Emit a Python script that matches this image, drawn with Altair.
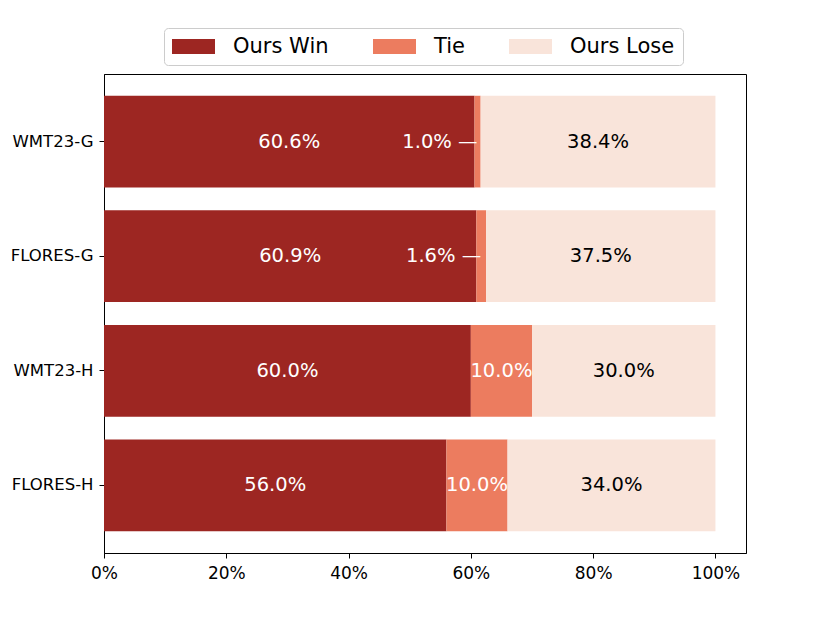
import altair as alt
import pandas as pd

categories = ["WMT23-G", "FLORES-G", "WMT23-H", "FLORES-H"]
win = [60.6, 60.9, 60.0, 56.0]
tie = [1.0, 1.6, 10.0, 10.0]
lose = [38.4, 37.5, 30.0, 34.0]
outcomes = ["Ours Win", "Tie", "Ours Lose"]
colors = ["#9d2622", "#ec7c5f", "#f9e4da"]
text_colors = ["white", "white", "black"]
x_ticks = [0, 0.2, 0.4, 0.6, 0.8, 1.0]

rows = []
for c, w, t, l in zip(categories, win, tie, lose):
    start = 0.0
    for o, v, tc in zip(outcomes, (w, t, l), text_colors):
        small = v < 5
        rows.append(dict(
            cat=c, outcome=o, value=v,
            start=start / 100, end=(start + v) / 100,
            mid=(start + v / 2) / 100,
            label=(f"{v:.1f}% \u2014" if small else f"{v:.1f}%"),
            small=small, tcolor=tc,
        ))
        start += v
df = pd.DataFrame(rows)

FONT = "DejaVu Sans"

y_enc = alt.Y(
    "cat:N", sort=categories,
    scale=alt.Scale(paddingInner=0.2, paddingOuter=0.19),
    axis=alt.Axis(title=None, labelFontSize=16.5, labelFont=FONT, labelColor="black",
                  tickSize=5, tickColor="black", domainColor="black", labelPadding=6),
)
x_scale = alt.Scale(domain=[0, 1.05], nice=False)

bars = alt.Chart(df).mark_bar().encode(
    y=y_enc,
    x=alt.X("start:Q", scale=x_scale,
            axis=alt.Axis(title=None, values=x_ticks, format=".0%", labelFontSize=17,
                          labelFont=FONT, labelColor="black", tickSize=5, tickColor="black",
                          domainColor="black", grid=False, labelPadding=7, labelFlush=False)),
    x2="end:Q",
    color=alt.Color(
        "outcome:N",
        scale=alt.Scale(domain=outcomes, range=colors),
        legend=alt.Legend(
            title=None, orient="none", legendX=60, legendY=-46,
            direction="horizontal", columns=3,
            symbolType="M-1,-0.35H1V0.35H-1Z", symbolSize=1849, symbolStrokeWidth=0,
            clipHeight=21,
            labelFontSize=21, labelFont=FONT, labelColor="black", labelOffset=18,
            columnPadding=44, padding=8, strokeColor="#cccccc", cornerRadius=4,
            fillColor="white",
        ),
    ),
)

labels_c = alt.Chart(df).transform_filter("!datum.small").mark_text(
    fontSize=19.5, font=FONT, align="center", baseline="middle"
).encode(
    y=alt.Y("cat:N", sort=categories),
    x=alt.X("mid:Q", scale=x_scale),
    text="label:N",
    color=alt.Color("tcolor:N", scale=None),
)

labels_s = alt.Chart(df).transform_filter("datum.small").mark_text(
    fontSize=19.5, font=FONT, align="right", baseline="middle"
).encode(
    y=alt.Y("cat:N", sort=categories),
    x=alt.X("mid:Q", scale=x_scale),
    text="label:N",
    color=alt.Color("tcolor:N", scale=None),
)

chart = alt.layer(bars, labels_c, labels_s).properties(
    width=642, height=479,
    background="white",
    autosize=alt.AutoSizeParams(type="none"),
    padding={"left": 96, "top": 66, "right": 40, "bottom": 60},
).configure_view(stroke="black", strokeWidth=1)

chart.save("out.html", embed_options={"renderer": "svg", "actions": False})
